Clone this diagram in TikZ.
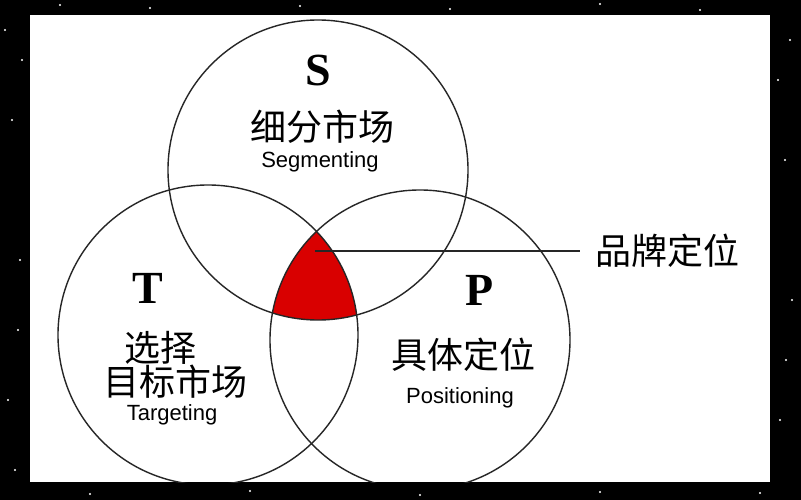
\documentclass[tikz,border=0pt]{standalone}
\usepackage{fontspec}
\setsansfont{Liberation Sans}
\setmainfont{Liberation Serif}
\newfontfamily\cjk{Noto Sans CJK SC}
\begin{document}
\begin{tikzpicture}[x=1pt,y=-1pt,
  circ/.style={draw=black!85,line width=1.4pt},
  big/.style={font=\fontsize{46}{46}\selectfont\bfseries},
  zh/.style={font=\cjk\fontsize{36}{36}\selectfont},
  en/.style={font=\sffamily\fontsize{22}{22}\selectfont}]
\useasboundingbox (0,0) rectangle (801,500);
\fill[black] (0,0) rectangle (801,500);
\foreach \x/\y in {5/30,12/120,20/260,8/400,15/470,60/5,150/8,300/6,450/9,600/4,700/10,790/40,785/160,792/300,780/420,760/493,600/492,420/495,250/491,90/494,22/60,778/80,18/330,786/360}
  \fill[white] (\x,\y) circle (1.2);
\fill[white] (30,15) rectangle (770,482);
\begin{scope}
  \clip (318,170) circle (150);
  \clip (208,335) circle (150);
  \fill[red!85!black] (420,340) circle (150);
\end{scope}
\begin{scope}
\clip (30,15) rectangle (770,482);
\draw[circ] (318,170) circle (150) coordinate (S);
\draw[circ] (208,335) circle (150) coordinate (T);
\draw[circ] (420,340) circle (150) coordinate (P);
\end{scope}
\coordinate (a) at (315,251);
\coordinate (b) at (580,251);
\draw[black!85,line width=1.3pt] (a) -- (b);
\node[zh] (lbl) at (667,251) {品牌定位};
\node[big] (s) at (318,70) {S};
\node[zh] (s1) at (322,127) {细分市场};
\node[en] (s2) at (320,162) {Segmenting};
\node[big] (t) at (148,288) {T};
\node[zh] (t1) at (160,348) {选择};
\node[zh] (t2) at (175,382) {目标市场};
\node[en] (t3) at (172,415) {Targeting};
\node[big] (p) at (480,290) {P};
\node[zh] (p1) at (463,355) {具体定位};
\node[en] (p2) at (460,398) {Positioning};
\end{tikzpicture}
\end{document}
